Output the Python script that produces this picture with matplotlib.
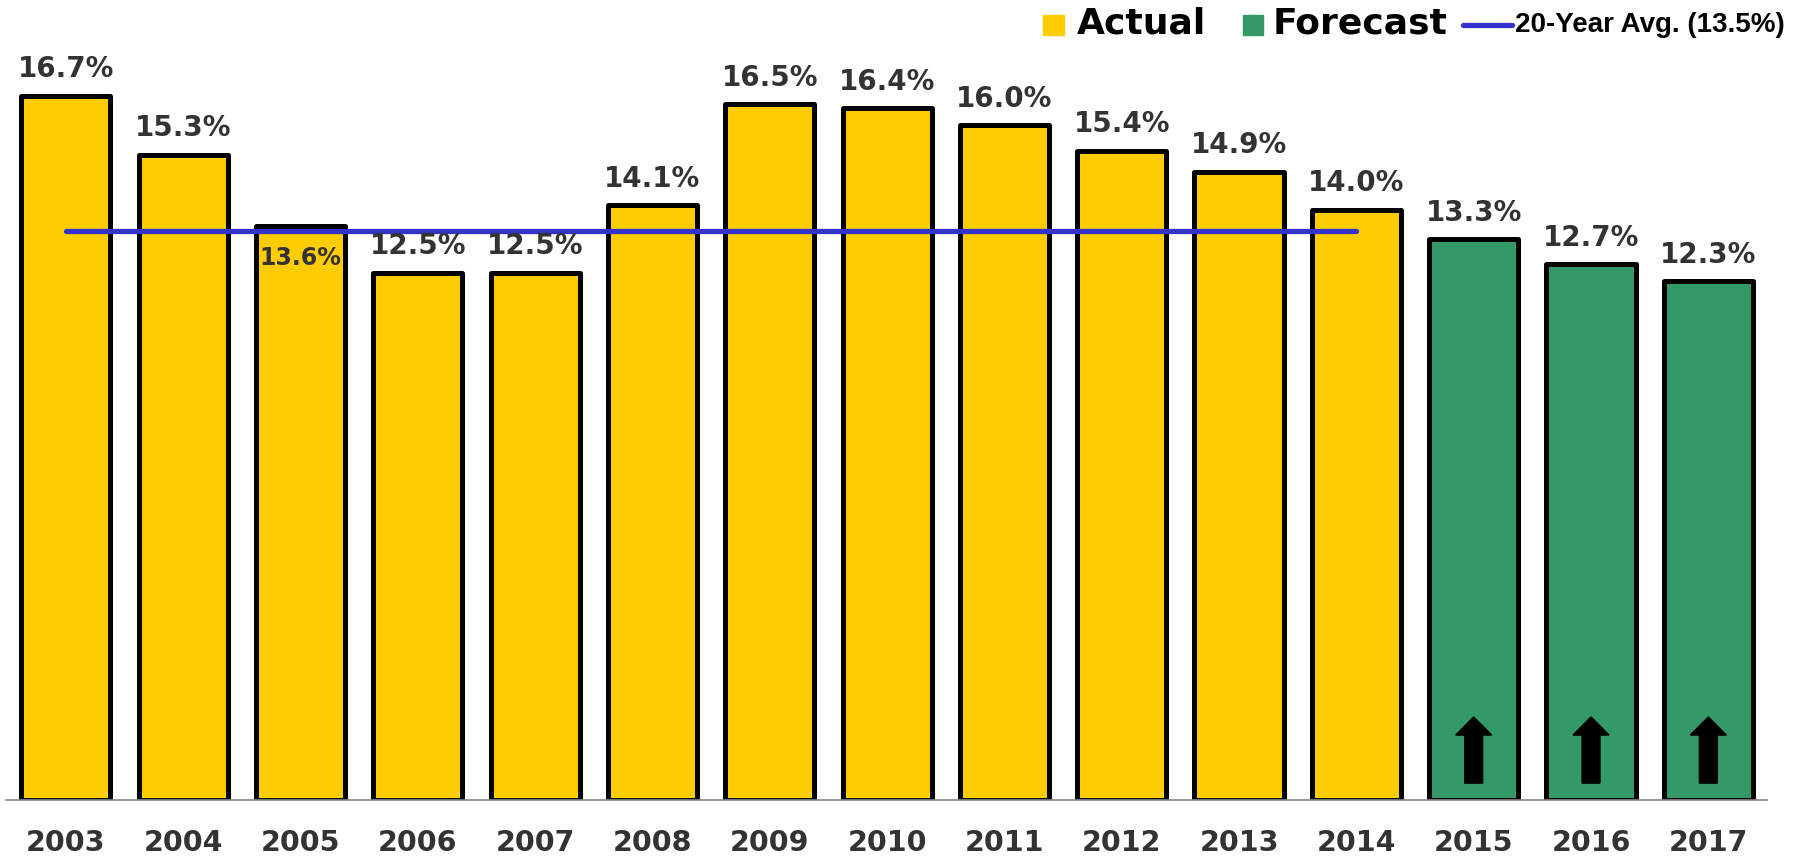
import numpy as np
import matplotlib
matplotlib.use("Agg")
import matplotlib.pyplot as plt
from matplotlib.patches import Rectangle
from matplotlib.lines import Line2D

# data
years = ["2003", "2004", "2005", "2006", "2007", "2008", "2009", "2010",
         "2011", "2012", "2013", "2014", "2015", "2016", "2017"]
values = [16.7, 15.3, 13.6, 12.5, 12.5, 14.1, 16.5, 16.4,
          16.0, 15.4, 14.9, 14.0, 13.3, 12.7, 12.3]
forecast = [False] * 12 + [True] * 3
avg_value = 13.5
avg_label = "20-Year Avg. (13.5%)"

yellow = "#FFCC00"
green = "#339966"
blue = "#3333CC"
txt = "#333333"

fig = plt.figure(figsize=(17.93, 8.6), dpi=100)
ax = fig.add_axes([6 / 1793, 60 / 860, (1767 - 6) / 1793, 800 / 860])

x = np.arange(len(years))
colors = [green if f else yellow for f in forecast]
bars = ax.bar(x, values, width=0.76, color=colors, edgecolor="black",
              linewidth=3.6, joinstyle="round", zorder=2)

# average line across the actual years
actual_x = x[~np.array(forecast)]
ax.plot([actual_x[0], actual_x[-1]], [avg_value, avg_value], color=blue,
        linewidth=3.8, solid_capstyle="round", zorder=3)

# value labels
for xi, v, yr in zip(x, values, years):
    if yr == "2005":
        ax.text(xi, 12.85, f"{v:.1f}%", ha="center", va="center",
                fontsize=17, fontweight="bold", color=txt, zorder=4)
    else:
        ax.annotate(f"{v:.1f}%", (xi, v), xytext=(0, 9), textcoords="offset points",
                    ha="center", va="bottom", fontsize=20, fontweight="bold",
                    color=txt, zorder=4)

# up arrows in the forecast bars
for xi, f in zip(x, forecast):
    if f:
        ax.arrow(xi, 0.40, 0, 1.57, width=0.153, head_width=0.307,
                 head_length=0.43, length_includes_head=True,
                 color="black", zorder=4)

ax.set_xlim(-0.51, 14.5)
ax.set_ylim(0, 800 / 42.17)
ax.set_xticks(x)
ax.set_xticklabels(years, fontsize=20.5, fontweight="bold", color=txt)
ax.tick_params(axis="x", length=0, pad=21)
ax.set_yticks([])
for s in ["top", "right", "left"]:
    ax.spines[s].set_visible(False)
ax.spines["bottom"].set_color("#888888")
ax.spines["bottom"].set_linewidth(1.2)
ax.patch.set_alpha(0)

# legend drawn by hand at the top right
W, H = 1793.0, 860.0
fig.patches.append(Rectangle((1043 / W, 1 - 35 / H), 21 / W, 20 / H,
                             transform=fig.transFigure, color=yellow))
fig.text(1077 / W, 1 - 24 / H, "Actual", fontsize=26, fontweight="bold",
         color="black", va="center", ha="left")
fig.patches.append(Rectangle((1243 / W, 1 - 35 / H), 20 / W, 20 / H,
                             transform=fig.transFigure, color=green))
fig.text(1273 / W, 1 - 24 / H, "Forecast", fontsize=26, fontweight="bold",
         color="black", va="center", ha="left")
fig.lines.append(Line2D([1463 / W, 1512 / W], [1 - 25 / H, 1 - 25 / H],
                        transform=fig.transFigure, color=blue, linewidth=3.8,
                        solid_capstyle="round"))
fig.text(1515 / W, 1 - 25 / H, avg_label, fontsize=20, fontweight="bold",
         family="Liberation Sans", color="black", va="center", ha="left")

fig.savefig("out.png", dpi=100)
